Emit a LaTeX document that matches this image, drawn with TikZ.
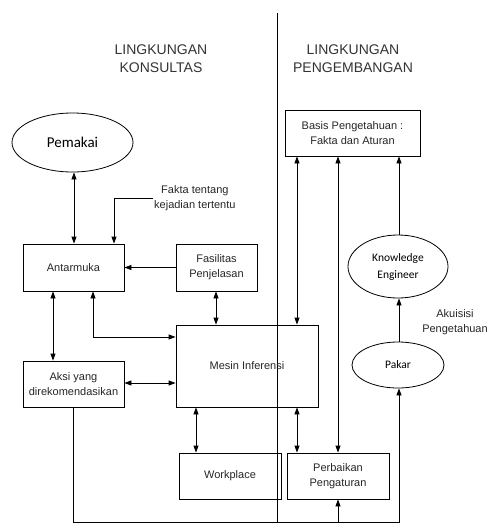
\documentclass[tikz,border=0pt]{standalone}
\usepackage{fontspec}
\setmainfont{Liberation Sans}
\newfontfamily\calibrifont{Carlito}
\usetikzlibrary{arrows.meta,shapes.geometric}
\begin{document}
\begin{tikzpicture}[x=1pt,y=-1pt,
  box/.style={draw,line width=0.8pt,minimum width=#1,inner sep=0pt,align=center,
    font=\fontsize{11}{15}\selectfont,text=black!85},
  oval/.style={draw,ellipse,line width=0.8pt,inner sep=0pt,align=center},
  lbl/.style={align=center,font=\fontsize{11}{15}\selectfont,text=black!85},
  head/.style={align=center,font=\fontsize{14}{18}\selectfont,text=black!80},
  con/.style={line width=0.8pt},
  arr/.style={con,-{Triangle[length=7pt,width=5pt]}},
  dbl/.style={con,{Triangle[length=7pt,width=5pt]}-{Triangle[length=7pt,width=5pt]}}]
\useasboundingbox (0,0) rectangle (491,523);
% divider
\coordinate (vtop) at (277,13);
\coordinate (vbot) at (277,523);
\draw[con] (vtop) -- (vbot);
% headings
\node[head] (h1) at (161,59) {LINGKUNGAN\\KONSULTAS};
\node[head] (h2) at (353,59) {LINGKUNGAN\\PENGEMBANGAN};
% nodes
\node[oval,minimum width=121pt,minimum height=59pt,font=\calibrifont\fontsize{15}{18}\selectfont] (pem) at (72.5,142.5) {Pemakai};
\node[box=101pt,minimum height=47pt] (ant) at (73.5,267.5) {Antarmuka};
\node[box=81pt,minimum height=47pt] (fas) at (216.5,267.5) {Fasilitas\\Penjelasan};
\node[box=101pt,minimum height=46pt] (aks) at (73.5,384) {Aksi yang\\direkomendasikan};
\node[box=142pt,minimum height=82pt] (mes) at (247,366) {Mesin Inferensi};
\node[box=102pt,minimum height=46pt] (wrk) at (230,476) {Workplace};
\node[box=102pt,minimum height=46pt] (per) at (338,476) {Perbaikan\\Pengaturan};
\node[box=135pt,minimum height=46pt] (bas) at (352.5,133) {Basis Pengetahuan :\\Fakta dan Aturan};
\node[oval,minimum width=100pt,minimum height=63pt,font=\calibrifont\fontsize{11.5}{17}\selectfont] (ke) at (398,266.5) {Knowledge\\Engineer};
\node[oval,minimum width=92pt,minimum height=46pt,font=\calibrifont\fontsize{11.5}{14}\selectfont] (pak) at (398,365) {Pakar};
\node[lbl,anchor=west,inner sep=0pt] (fakta) at (154,198.5) {Fakta tentang\\kejadian tertentu};
\node[lbl] (aku) at (455,322) {Akuisisi\\Pengetahuan};
% helper coordinates
\coordinate (x53) at (53,0);
\coordinate (x74) at (74,0);
\coordinate (x93) at (93,0);
\coordinate (x114) at (114,0);
\coordinate (x196) at (196,0);
\coordinate (x216) at (216,0);
\coordinate (x297) at (297,0);
\coordinate (x338) at (338,0);
\coordinate (x399) at (399,0);
\coordinate (y337) at (0,337);
\coordinate (y383) at (0,383);
\coordinate (y522) at (0,522);
% connectors
\draw[dbl] (pem.south -| x74) -- (ant.north -| x74);
\draw[arr] ([xshift=-1pt]fakta.west) -- (fakta.west -| x114) -- (ant.north -| x114);
\draw[arr] (fas.west) -- (ant.east);
\draw[dbl] (fas.south -| x216) -- (mes.north -| x216);
\draw[dbl] (ant.south -| x93) -- (x93 |- y337) -- (mes.west |- y337);
\draw[dbl] (ant.south -| x53) -- (aks.north -| x53);
\draw[dbl] (aks.east |- y383) -- (mes.west |- y383);
\draw[dbl] (mes.south -| x196) -- (wrk.north -| x196);
\draw[dbl] (mes.south -| x297) -- (per.north -| x297);
\draw[dbl] (bas.south -| x297) -- (mes.north -| x297);
\draw[dbl] (bas.south -| x338) -- (per.north -| x338);
\draw[arr] (ke.north -| x399) -- (bas.south -| x399);
\draw[arr] (pak.north -| x399) -- (ke.south -| x399);
\draw[arr] (aks.south) -- (aks.south |- y522) -- (x399 |- y522) -- (pak.south -| x399);
\draw[arr] (x338 |- y522) -- (per.south -| x338);
\end{tikzpicture}
\end{document}
